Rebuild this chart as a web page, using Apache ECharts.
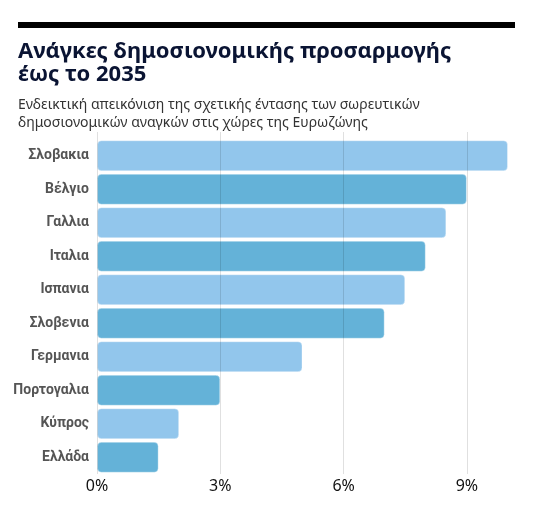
<!DOCTYPE html>
<html>
<head>
<meta charset="utf-8">
<script src="https://cdn.jsdelivr.net/npm/echarts@6/dist/echarts.min.js"></script>
<style>
html,body{margin:0;padding:0;background:#fff;}
#chart{width:544px;height:532px;}
</style>
</head>
<body>
<div id="chart"></div>
<script>
var categories = ['Σλοβακια','Βέλγιο','Γαλλια','Ιταλια','Ισπανια','Σλοβενια','Γερμανια','Πορτογαλια','Κύπρος','Ελλάδα'];
var values = [10, 9, 8.5, 8, 7.5, 7, 5, 3, 2, 1.5];
var xTicks = [0, 3, 6, 9];
var titleText = 'Ανάγκες δημοσιονομικής προσαρμογής\nέως το 2035';
var subtitleText = 'Ενδεικτική απεικόνιση της σχετικής έντασης των σωρευτικών\nδημοσιονομικών αναγκών στις χώρες της Ευρωζώνης';

var chart = echarts.init(document.getElementById('chart'), null, {renderer:'canvas'});
var barColors = ['#92c6ec', '#64b2d8'];
chart.setOption({
  animation: false,
  backgroundColor: '#ffffff',
  graphic: [{
    type: 'rect',
    shape: {x: 18, y: 22, width: 497, height: 6},
    style: {fill: '#000000'}
  }],
  title: [{
    text: titleText,
    left: 18, top: 40, padding: 0,
    textStyle: {fontFamily: 'Noto Sans', fontWeight: 'bold', fontSize: 22, lineHeight: 23, color: '#0a1433'}
  }, {
    text: subtitleText,
    left: 18, top: 96, padding: 0,
    textStyle: {fontFamily: 'Noto Sans', fontWeight: 'normal', fontSize: 14, lineHeight: 18, color: '#333333'}
  }],
  grid: [
    {left: 97, right: 36, top: 132, bottom: 58},
    {left: 97, right: 36, top: 139, bottom: 58}
  ],
  xAxis: [{
    gridIndex: 0, type: 'value', min: 0, max: 10, interval: 3, z: 3,
    axisLine: {show: false}, axisTick: {show: false},
    splitLine: {show: true, showMaxLine: false, lineStyle: {color: 'rgba(0,0,0,0.12)', width: 1}},
    axisLabel: {
      margin: 4, fontFamily: 'Noto Sans', fontSize: 16, color: '#111111', showMaxLabel: false,
      formatter: function (v) { return xTicks.indexOf(v) >= 0 ? v + '%' : ''; }
    }
  }, {
    gridIndex: 1, type: 'value', min: 0, max: 10, show: false
  }],
  yAxis: [{
    gridIndex: 0, type: 'value', show: false
  }, {
    gridIndex: 1, type: 'category', data: categories, inverse: true,
    axisLine: {show: false}, axisTick: {show: false}, splitLine: {show: false},
    axisLabel: {margin: 8, fontFamily: 'Roboto', fontWeight: 'bold', fontSize: 14, color: '#555555'}
  }],
  series: [{
    type: 'bar', xAxisIndex: 1, yAxisIndex: 1, data: values,
    barCategoryGap: '7.5%',
    itemStyle: {
      borderRadius: 4,
      borderColor: 'rgba(255,255,255,0.35)', borderWidth: 1,
      color: function (p) { return barColors[p.dataIndex % 2]; }
    }
  }]
});
</script>
</body>
</html>
